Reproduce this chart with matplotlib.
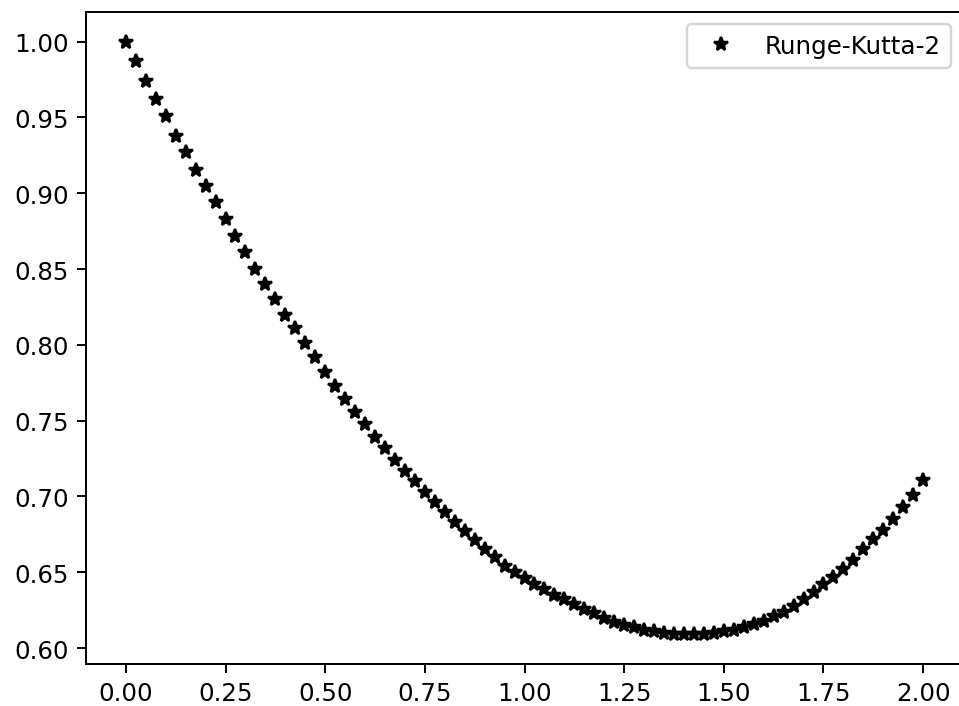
import matplotlib
matplotlib.use("Agg")
import matplotlib.pyplot as plt

x_vals = [0.000, 0.025, 0.050, 0.075, 0.100, 0.125, 0.150, 0.175, 0.200, 0.225,
          0.250, 0.275, 0.300, 0.325, 0.350, 0.375, 0.400, 0.425, 0.450, 0.475,
          0.500, 0.525, 0.550, 0.575, 0.600, 0.625, 0.650, 0.675, 0.700, 0.725,
          0.750, 0.775, 0.800, 0.825, 0.850, 0.875, 0.900, 0.925, 0.950, 0.975,
          1.000, 1.025, 1.050, 1.075, 1.100, 1.125, 1.150, 1.175, 1.200, 1.225,
          1.250, 1.275, 1.300, 1.325, 1.350, 1.375, 1.400, 1.425, 1.450, 1.475,
          1.500, 1.525, 1.550, 1.575, 1.600, 1.625, 1.650, 1.675, 1.700, 1.725,
          1.750, 1.775, 1.800, 1.825, 1.850, 1.875, 1.900, 1.925, 1.950, 1.975,
          2.000]

y_rk2 = [1.000, 0.987, 0.974, 0.962, 0.951, 0.938, 0.927, 0.915, 0.905, 0.894,
         0.883, 0.872, 0.861, 0.850, 0.840, 0.830, 0.820, 0.811, 0.801, 0.792,
         0.782, 0.773, 0.764, 0.756, 0.748, 0.739, 0.732, 0.724, 0.717, 0.710,
         0.703, 0.696, 0.690, 0.683, 0.677, 0.671, 0.665, 0.660, 0.654, 0.650,
         0.646, 0.642, 0.639, 0.635, 0.632, 0.629, 0.626, 0.623, 0.620, 0.617,
         0.615, 0.614, 0.612, 0.611, 0.610, 0.609, 0.609, 0.609, 0.609, 0.610,
         0.611, 0.612, 0.614, 0.616, 0.618, 0.621, 0.624, 0.628, 0.632, 0.637,
         0.642, 0.647, 0.652, 0.658, 0.665, 0.672, 0.678, 0.685, 0.693, 0.701,
         0.711]

series_label = "Runge-Kutta-2"

DPI = 176
fig = plt.figure(figsize=(959 / DPI, 707 / DPI), dpi=DPI)
ax = fig.add_axes([86 / 959, 42 / 707, 877 / 959, 652 / 707])
ax.plot(x_vals, y_rk2, "k*", label=series_label)
ax.legend(loc="upper right")
fig.savefig("out.png", dpi=DPI)
